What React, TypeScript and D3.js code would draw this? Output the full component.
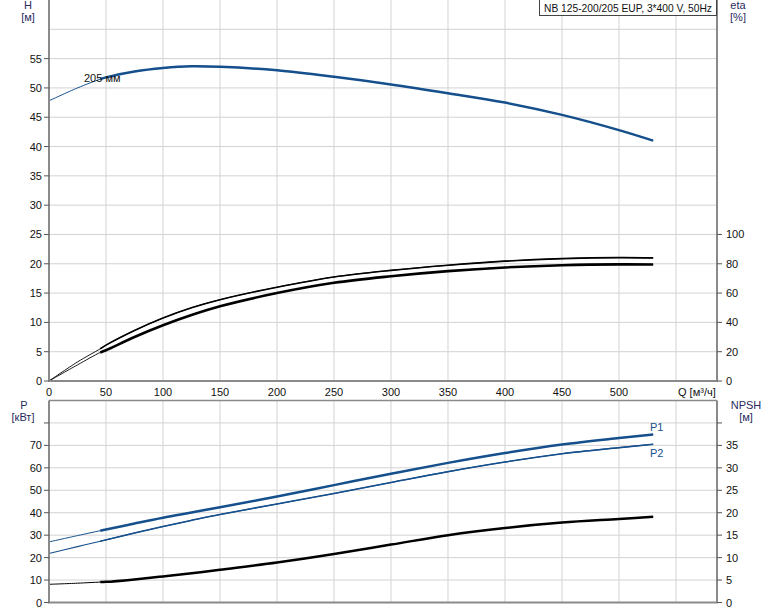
import React from 'react';
import * as d3 from 'd3';

// flow points, m3/h
const flow = [0, 25, 45, 50, 75, 100, 125, 150, 200, 250, 300, 350, 400, 450, 500, 530];
// head curve, m
const head = [47.8, 50.0, 51.5, 51.8, 52.8, 53.4, 53.7, 53.6, 53.0, 51.9, 50.6, 49.1, 47.5, 45.4, 42.8, 41.0];
// efficiencies, %
const etaUpper = [0, 13, 22, 24.5, 34.5, 43, 50, 55.5, 64, 71, 75.5, 79, 81.8, 83.5, 84.2, 84];
const etaLower = [0, 11, 19.5, 21, 30, 38, 45, 51, 60, 67, 71.5, 75, 77.5, 79, 79.6, 79.5];
// power, kW
const powerP1 = [27.0, 29.8, 32.0, 32.5, 35.2, 37.8, 40.1, 42.4, 47.2, 52.3, 57.4, 62.2, 66.6, 70.4, 73.3, 74.9];
const powerP2 = [21.8, 24.9, 27.3, 27.9, 31.0, 33.9, 36.6, 39.2, 43.9, 48.6, 53.5, 58.3, 62.6, 66.3, 69.0, 70.5];
// NPSH, m
const npsh = [4.05, 4.3, 4.55, 4.6, 5.15, 5.8, 6.5, 7.3, 8.9, 10.8, 12.9, 15.0, 16.6, 17.8, 18.6, 19.1];

const xTicks = [0, 50, 100, 150, 200, 250, 300, 350, 400, 450, 500];
const xGrid = [50, 100, 150, 200, 250, 300, 350, 400, 450, 500, 550];
const hTicks = [0, 5, 10, 15, 20, 25, 30, 35, 40, 45, 50, 55];
const hGrid = [5, 10, 15, 20, 25, 30, 35, 40, 45, 50, 55, 60];
const etaTicks = [0, 20, 40, 60, 80, 100];
const pTicks = [0, 10, 20, 30, 40, 50, 60, 70, 80];
const npshTicks = [0, 5, 10, 15, 20, 25, 30, 35, 40];

const title = 'NB 125-200/205 EUP, 3*400 V, 50Hz';
const thickFrom = 45;

const W = 774;
const H = 611;
const left = 49;
const right = 717;
const topBottom = 381;
const botTop = 400.5;
const botBottom = 602.5;

const FONT = 'Liberation Sans, Arial, sans-serif';
const BLUE = '#154f8c';
const AXIS = '#8a8a8a';
const GRID = '#d3d3d3';
const LABEL = '#2b2b5e';

const App: React.FC = () => {
  const x = d3.scaleLinear().domain([0, 586]).range([left, right]);
  const yH = d3.scaleLinear().domain([0, 65]).range([topBottom, 0]);
  const yEta = d3.scaleLinear().domain([0, 260]).range([topBottom, 0]);
  const yP = d3.scaleLinear().domain([0, 90]).range([botBottom, botTop]);
  const yN = d3.scaleLinear().domain([0, 45]).range([botBottom, botTop]);

  const curve = d3.curveCatmullRom.alpha(0.5);

  const mk = (vals: number[], y: d3.ScaleLinear<number, number>) =>
    d3.line<number>()
      .x((_, i) => x(flow[i]))
      .y((v) => y(v))
      .curve(curve)(vals) || '';

  const mkThick = (vals: number[], y: d3.ScaleLinear<number, number>) => {
    const idx = flow.map((q, i) => i).filter((i) => flow[i] >= thickFrom);
    return d3.line<number>()
      .x((i) => x(flow[i]))
      .y((i) => y(vals[i]))
      .curve(curve)(idx) || '';
  };

  const txt = { fontFamily: FONT, fontSize: 11 };

  return (
    <svg width={W} height={H} style={{ position: 'absolute', left: 0, top: 0, background: '#fff' }}>
      {/* top chart grid */}
      {xGrid.map((q) => (
        <line key={'tv' + q} x1={x(q)} x2={x(q)} y1={0} y2={topBottom} stroke={GRID} />
      ))}
      {hGrid.map((h) => (
        <line key={'th' + h} x1={left} x2={right} y1={yH(h)} y2={yH(h)} stroke={GRID} />
      ))}
      {/* bottom chart grid */}
      {xGrid.map((q) => (
        <line key={'bv' + q} x1={x(q)} x2={x(q)} y1={botTop} y2={botBottom} stroke={GRID} />
      ))}
      {pTicks.slice(1).map((p) => (
        <line key={'bh' + p} x1={left} x2={right} y1={yP(p)} y2={yP(p)} stroke={GRID} />
      ))}

      {/* curves top */}
      <path d={mk(head, yH)} fill="none" stroke={BLUE} strokeWidth={1} />
      <path d={mkThick(head, yH)} fill="none" stroke={BLUE} strokeWidth={2.5} />
      <path d={mk(etaUpper, yEta)} fill="none" stroke="#000" strokeWidth={0.9} />
      <path d={mkThick(etaUpper, yEta)} fill="none" stroke="#000" strokeWidth={1.6} />
      <path d={mk(etaLower, yEta)} fill="none" stroke="#000" strokeWidth={0.9} />
      <path d={mkThick(etaLower, yEta)} fill="none" stroke="#000" strokeWidth={2.6} />

      {/* curves bottom */}
      <path d={mk(powerP1, yP)} fill="none" stroke={BLUE} strokeWidth={1} />
      <path d={mkThick(powerP1, yP)} fill="none" stroke={BLUE} strokeWidth={2.5} />
      <path d={mk(powerP2, yP)} fill="none" stroke={BLUE} strokeWidth={1.1} />
      <path d={mkThick(powerP2, yP)} fill="none" stroke={BLUE} strokeWidth={1.5} />
      <path d={mk(npsh, yN)} fill="none" stroke="#000" strokeWidth={1} />
      <path d={mkThick(npsh, yN)} fill="none" stroke="#000" strokeWidth={2.5} />

      {/* axes top */}
      <line x1={left} x2={left} y1={0} y2={topBottom} stroke={AXIS} strokeWidth={2} />
      <line x1={right} x2={right} y1={0} y2={topBottom} stroke={AXIS} strokeWidth={2} />
      <line x1={left - 1} x2={right + 1} y1={topBottom} y2={topBottom} stroke={AXIS} strokeWidth={2} />
      {hTicks.map((h) => (
        <g key={'hl' + h}>
          <line x1={left - 5} x2={left} y1={yH(h)} y2={yH(h)} stroke="#555" />
          <text x={42} y={yH(h) + 4} textAnchor="end" fill="#111" style={txt}>{h}</text>
        </g>
      ))}
      {etaTicks.map((e) => (
        <g key={'el' + e}>
          <line x1={right} x2={right + 5} y1={yEta(e)} y2={yEta(e)} stroke="#555" />
          <text x={726} y={yEta(e) + 4} fill="#111" style={txt}>{e}</text>
        </g>
      ))}
      {xTicks.map((q) => (
        <text key={'xl' + q} x={x(q)} y={396} textAnchor="middle" fill="#111" style={txt}>{q}</text>
      ))}
      <text x={678} y={396} fill="#111" style={txt}>Q [м³/ч]</text>

      {/* axes bottom */}
      <line x1={left} x2={right} y1={botTop} y2={botTop} stroke={AXIS} strokeWidth={1.5} />
      <line x1={left} x2={left} y1={botTop} y2={botBottom} stroke={AXIS} strokeWidth={2} />
      <line x1={right} x2={right} y1={botTop} y2={botBottom} stroke={AXIS} strokeWidth={2} />
      <line x1={left - 1} x2={right + 1} y1={botBottom} y2={botBottom} stroke={AXIS} strokeWidth={2} />
      {pTicks.map((p) => (
        <g key={'pl' + p}>
          <line x1={left - 5} x2={left} y1={yP(p)} y2={yP(p)} stroke="#555" />
          {p < 80 && (
            <text x={42} y={yP(p) + 4} textAnchor="end" fill="#111" style={txt}>{p}</text>
          )}
        </g>
      ))}
      {npshTicks.map((n) => (
        <g key={'nl' + n}>
          <line x1={right} x2={right + 5} y1={yN(n)} y2={yN(n)} stroke="#555" />
          {n < 40 && (
            <text x={726} y={yN(n) + 4} fill="#111" style={txt}>{n}</text>
          )}
        </g>
      ))}

      {/* axis titles */}
      <text x={28} y={9} textAnchor="middle" fill={LABEL} style={txt}>H</text>
      <text x={28} y={21} textAnchor="middle" fill={LABEL} style={txt}>[м]</text>
      <text x={738} y={9} textAnchor="middle" fill={LABEL} style={txt}>eta</text>
      <text x={738} y={21} textAnchor="middle" fill={LABEL} style={txt}>[%]</text>
      <text x={24} y={409} textAnchor="middle" fill={LABEL} style={txt}>P</text>
      <text x={23} y={421} textAnchor="middle" fill={LABEL} style={txt}>[кВт]</text>
      <text x={746} y={409} textAnchor="middle" fill={LABEL} style={txt}>NPSH</text>
      <text x={746} y={421} textAnchor="middle" fill={LABEL} style={txt}>[м]</text>

      {/* curve labels */}
      <text x={84} y={81.5} fill="#111" style={txt}>205 мм</text>
      <text x={650} y={431} fill={BLUE} style={txt}>P1</text>
      <text x={650} y={457} fill={BLUE} style={txt}>P2</text>

      {/* title box */}
      <rect x={539.5} y={-1} width={177} height={16.5} fill="#fff" stroke="#444" />
      <text x={544} y={11.5} fill="#111" textLength={168} lengthAdjust="spacingAndGlyphs"
        style={{ fontFamily: FONT, fontSize: 11 }}>{title}</text>
    </svg>
  );
};

export default App;
